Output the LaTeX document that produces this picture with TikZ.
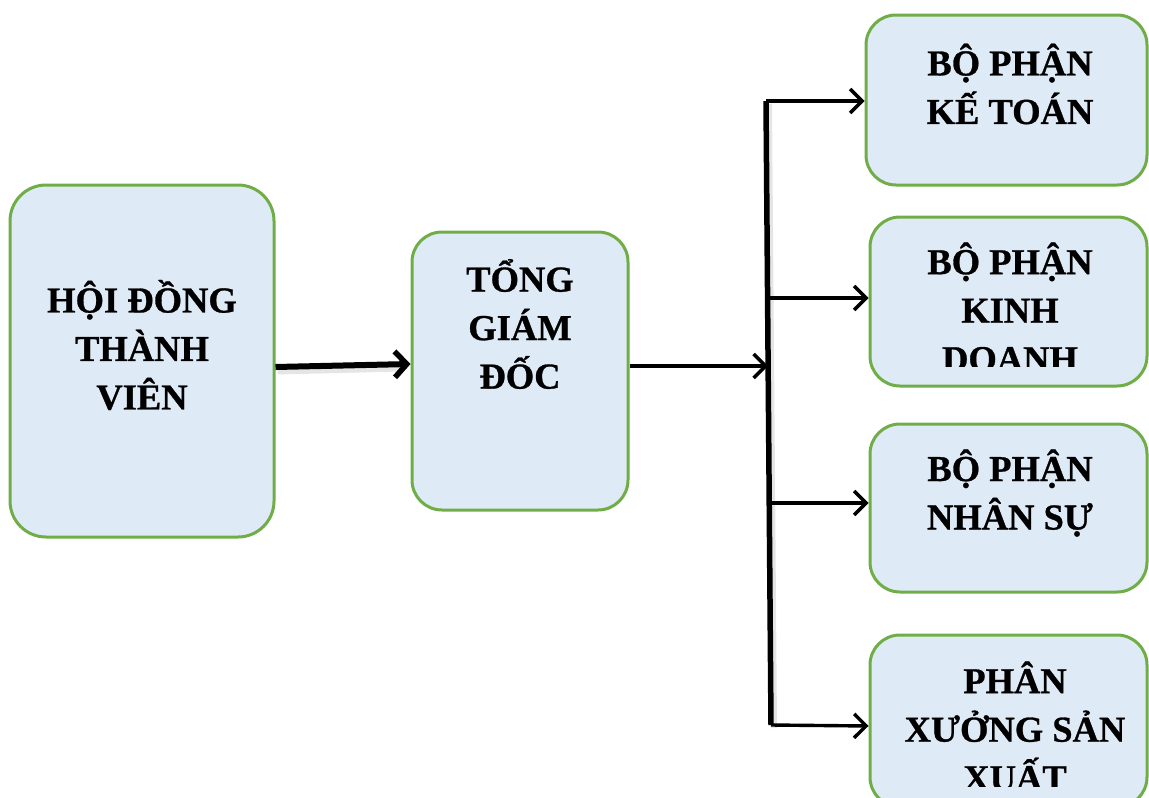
\documentclass[tikz,border=0pt]{standalone}
\usepackage{fontspec}
\setmainfont{Liberation Serif}[BoldFeatures={FakeBold=0.8}]
\usetikzlibrary{arrows.meta,calc}
\definecolor{boxfill}{HTML}{DEEBF7}
\definecolor{boxline}{HTML}{70AD47}
\tikzset{
  orgbox/.style={draw=boxline, line width=3pt, fill=boxfill, rounded corners=30pt, inner sep=0pt},
  lbl/.style={align=center, font=\fontsize{36.5}{48.5}\selectfont\bfseries, inner sep=0pt},
  thinarrow/.style={line width=3.4pt, -{Straight Barb[length=12pt,width=24pt,line width=3.4pt]}},
  thickarrow/.style={line width=6pt, -{Straight Barb[length=12pt,width=26pt,line width=5.5pt]}},
  shadowline/.style={line width=6pt, draw=black!20, opacity=0.5},
}
\begin{document}
\begin{tikzpicture}[x=1pt,y=-1pt]
\useasboundingbox (0,0) rectangle (1149,798);
\begin{scope}
\clip (0,0) rectangle (1149,798);
% boxes
\node[orgbox, rounded corners=36pt, minimum width=264pt, minimum height=352pt] (b1) at (142,361) {};
\node[orgbox, minimum width=216pt, minimum height=278pt] (b2) at (520,371) {};
\node[orgbox, minimum width=281pt, minimum height=170pt] (b3) at (1006.5,100) {};
\node[orgbox, minimum width=277pt, minimum height=169pt] (b4) at (1008.5,301.5) {};
\node[orgbox, minimum width=277pt, minimum height=168pt] (b5) at (1008.5,508) {};
\node[orgbox, minimum width=277pt, minimum height=172pt] (b6) at (1008.5,721) {};
% labels
\node[lbl] (t1) at (142,345) {HỘI ĐỒNG\\THÀNH\\VIÊN};
\node[lbl] (t2) at (520,324) {TỔNG\\GIÁM\\ĐỐC};
\node[lbl] (t3) at (1010,84) {BỘ PHẬN\\KẾ TOÁN};
\begin{scope}
\clip (870,220) rectangle (1149,366);
\node[lbl] (t4) at (1010,307) {BỘ PHẬN\\KINH\\DOANH};
\end{scope}
\node[lbl] (t5) at (1010,493) {BỘ PHẬN\\NHÂN SỰ};
\begin{scope}
\clip (870,640) rectangle (1149,786);
\node[lbl] (t6) at (1015,726) {PHÂN\\XƯỞNG SẢN\\XUẤT};
\end{scope}
% spine coordinates
\coordinate (s0) at (768,366);
\coordinate (s1) at (766,101);
\coordinate (s2) at (767,298);
\coordinate (s3) at (769,503);
\coordinate (s4) at (771,725);
% shadows
\draw[shadowline] ([shift={(3pt,-3pt)}]s1) -- ([shift={(3pt,-3pt)}]s4);
\draw[shadowline, line width=7pt] ([shift={(2pt,-10pt)}]b1.east) -- ([shift={(-10pt,3pt)}]b2.west);
% connectors
\draw[thickarrow] ([yshift=-6pt]b1.east) -- ([yshift=7pt]b2.west);
\draw[thinarrow] ([yshift=5pt]b2.east) -- (s0);
\draw[line width=5.5pt, line cap=square] (s1) -- (s4);
\draw[thinarrow] (s1) -- (s1 -| b3.west);
\draw[thinarrow] (s2) -- (s2 -| b4.west);
\draw[thinarrow] (s3) -- (s3 -| b5.west);
\draw[thinarrow] (s4) -- ([yshift=-1pt]s4 -| b6.west);
\end{scope}
\end{tikzpicture}
\end{document}
